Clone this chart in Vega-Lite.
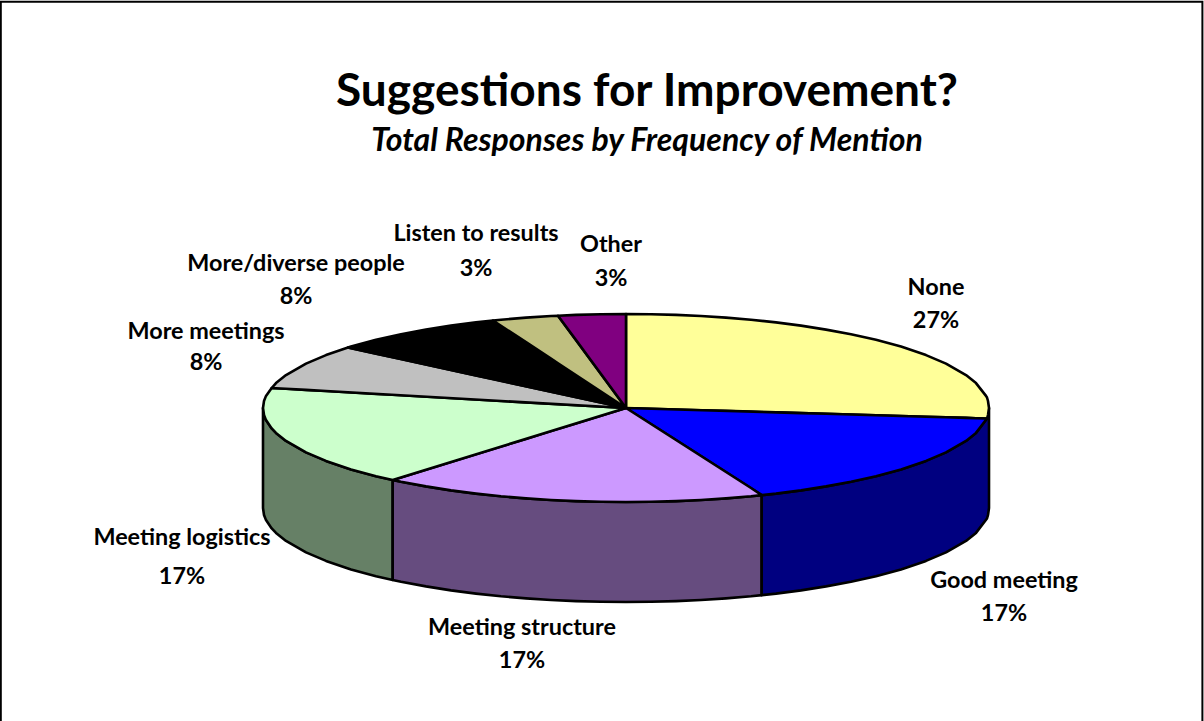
{
"$schema":"https://vega.github.io/schema/vega-lite/v6.json",
"width":1204,"height":721,"padding":0,"autosize":{"type":"none"},
"background":"white",
"view":{"stroke":null},
"config":{"axis":{"disable":true},"legend":{"disable":true}},
"title":{"text":"Suggestions for Improvement?","subtitle":"Total Responses by Frequency of Mention","anchor":"middle","frame":"group","dx":45,"offset":-160,"font":"Lato","fontSize":46,"fontWeight":"bold","color":"black","subtitleFont":"Lato","subtitleFontSize":32,"subtitleFontWeight":"bold","subtitleFontStyle":"italic","subtitleColor":"black","subtitlePadding":10},
"datasets":{
"frame":[{"o":0,"x":0.8,"y":721},{"o":1,"x":0.8,"y":1.8},{"o":2,"x":1202.4,"y":1.8},{"o":3,"x":1202.4,"y":721}],
"sides":[
{"part":"Meeting logistics side","x":263,"y":408,"y2":508},{"part":"Meeting logistics side","x":264,"y":415,"y2":515},{"part":"Meeting logistics side","x":266,"y":420.1,"y2":520.1},{"part":"Meeting logistics side","x":271.7,"y":428.4,"y2":528.4},{"part":"Meeting logistics side","x":276,"y":432.9,"y2":532.9},{"part":"Meeting logistics side","x":286,"y":440.9,"y2":540.9},{"part":"Meeting logistics side","x":306,"y":452.4,"y2":552.4},{"part":"Meeting logistics side","x":326,"y":460.9,"y2":560.9},{"part":"Meeting logistics side","x":351,"y":469.4,"y2":569.4},{"part":"Meeting logistics side","x":376,"y":476.2,"y2":576.2},{"part":"Meeting logistics side","x":392.7,"y":480,"y2":580},
{"part":"Meeting structure side","x":392.7,"y":480,"y2":580},{"part":"Meeting structure side","x":401,"y":481.8,"y2":581.8},{"part":"Meeting structure side","x":426,"y":486.4,"y2":586.4},{"part":"Meeting structure side","x":451,"y":490.4,"y2":590.4},{"part":"Meeting structure side","x":476,"y":493.6,"y2":593.6},{"part":"Meeting structure side","x":501,"y":496.3,"y2":596.3},{"part":"Meeting structure side","x":526,"y":498.4,"y2":598.4},{"part":"Meeting structure side","x":551,"y":500,"y2":600},{"part":"Meeting structure side","x":576,"y":501.1,"y2":601.1},{"part":"Meeting structure side","x":601,"y":501.8,"y2":601.8},{"part":"Meeting structure side","x":626,"y":502,"y2":602},{"part":"Meeting structure side","x":651,"y":501.8,"y2":601.8},{"part":"Meeting structure side","x":676,"y":501.1,"y2":601.1},{"part":"Meeting structure side","x":701,"y":500,"y2":600},{"part":"Meeting structure side","x":726,"y":498.4,"y2":598.4},{"part":"Meeting structure side","x":751,"y":496.3,"y2":596.3},{"part":"Meeting structure side","x":761.7,"y":495.1,"y2":595.1},
{"part":"Good meeting side","x":761.7,"y":495.1,"y2":595.1},{"part":"Good meeting side","x":776,"y":493.6,"y2":593.6},{"part":"Good meeting side","x":801,"y":490.4,"y2":590.4},{"part":"Good meeting side","x":826,"y":486.4,"y2":586.4},{"part":"Good meeting side","x":851,"y":481.8,"y2":581.8},{"part":"Good meeting side","x":876,"y":476.2,"y2":576.2},{"part":"Good meeting side","x":901,"y":469.4,"y2":569.4},{"part":"Good meeting side","x":926,"y":460.9,"y2":560.9},{"part":"Good meeting side","x":946,"y":452.4,"y2":552.4},{"part":"Good meeting side","x":966,"y":440.9,"y2":540.9},{"part":"Good meeting side","x":976,"y":432.9,"y2":532.9},{"part":"Good meeting side","x":987,"y":418.5,"y2":518.5},{"part":"Good meeting side","x":988,"y":415,"y2":515},{"part":"Good meeting side","x":989,"y":408,"y2":508}
],
"tops":[
{"part":"None","x":626,"y":314,"y2":408},{"part":"None","x":651,"y":314.2,"y2":408.7},{"part":"None","x":676,"y":314.9,"y2":409.5},{"part":"None","x":701,"y":316,"y2":410.2},{"part":"None","x":726,"y":317.6,"y2":410.9},{"part":"None","x":751,"y":319.7,"y2":411.6},{"part":"None","x":776,"y":322.4,"y2":412.4},{"part":"None","x":801,"y":325.6,"y2":413.1},{"part":"None","x":826,"y":329.6,"y2":413.8},{"part":"None","x":851,"y":334.2,"y2":414.5},{"part":"None","x":876,"y":339.8,"y2":415.3},{"part":"None","x":901,"y":346.6,"y2":416},{"part":"None","x":926,"y":355.1,"y2":416.7},{"part":"None","x":946,"y":363.6,"y2":417.3},{"part":"None","x":966,"y":375.1,"y2":417.9},{"part":"None","x":976,"y":383.1,"y2":418.2},{"part":"None","x":986,"y":395.9,"y2":418.5},{"part":"None","x":987,"y":397.5,"y2":418.5},{"part":"None","x":988,"y":401,"y2":415},{"part":"None","x":989,"y":408,"y2":408},
{"part":"Good meeting","x":626,"y":408,"y2":408},{"part":"Good meeting","x":694,"y":410,"y2":451.5},{"part":"Good meeting","x":761.7,"y":412,"y2":495.1},{"part":"Good meeting","x":776,"y":412.4,"y2":493.6},{"part":"Good meeting","x":801,"y":413.1,"y2":490.4},{"part":"Good meeting","x":826,"y":413.8,"y2":486.4},{"part":"Good meeting","x":851,"y":414.5,"y2":481.8},{"part":"Good meeting","x":876,"y":415.3,"y2":476.2},{"part":"Good meeting","x":901,"y":416,"y2":469.4},{"part":"Good meeting","x":926,"y":416.7,"y2":460.9},{"part":"Good meeting","x":946,"y":417.3,"y2":452.4},{"part":"Good meeting","x":966,"y":417.9,"y2":440.9},{"part":"Good meeting","x":976,"y":418.2,"y2":432.9},{"part":"Good meeting","x":987,"y":418.5,"y2":418.5},
{"part":"Meeting structure","x":392.7,"y":480,"y2":480},{"part":"Meeting structure","x":401,"y":477.4,"y2":481.8},{"part":"Meeting structure","x":426,"y":469.7,"y2":486.4},{"part":"Meeting structure","x":451,"y":462,"y2":490.4},{"part":"Meeting structure","x":476,"y":454.3,"y2":493.6},{"part":"Meeting structure","x":501,"y":446.6,"y2":496.3},{"part":"Meeting structure","x":526,"y":438.9,"y2":498.4},{"part":"Meeting structure","x":551,"y":431.1,"y2":500},{"part":"Meeting structure","x":576,"y":423.4,"y2":501.1},{"part":"Meeting structure","x":601,"y":415.7,"y2":501.8},{"part":"Meeting structure","x":626,"y":408,"y2":502},{"part":"Meeting structure","x":651,"y":424,"y2":501.8},{"part":"Meeting structure","x":676,"y":440,"y2":501.1},{"part":"Meeting structure","x":701,"y":456,"y2":500},{"part":"Meeting structure","x":726,"y":472,"y2":498.4},{"part":"Meeting structure","x":751,"y":488,"y2":496.3},{"part":"Meeting structure","x":761.7,"y":495.1,"y2":495.1},
{"part":"Meeting logistics","x":263,"y":408,"y2":408},{"part":"Meeting logistics","x":264,"y":401,"y2":415},{"part":"Meeting logistics","x":266,"y":395.9,"y2":420.1},{"part":"Meeting logistics","x":271.7,"y":388,"y2":428.4},{"part":"Meeting logistics","x":276,"y":388.2,"y2":432.9},{"part":"Meeting logistics","x":286,"y":388.8,"y2":440.9},{"part":"Meeting logistics","x":306,"y":389.9,"y2":452.4},{"part":"Meeting logistics","x":326,"y":391,"y2":460.9},{"part":"Meeting logistics","x":351,"y":392.5,"y2":469.4},{"part":"Meeting logistics","x":376,"y":393.9,"y2":476.2},{"part":"Meeting logistics","x":392.7,"y":394.8,"y2":480},{"part":"Meeting logistics","x":626,"y":408,"y2":408},
{"part":"More meetings","x":271.7,"y":388,"y2":388},{"part":"More meetings","x":276,"y":383.1,"y2":388.2},{"part":"More meetings","x":286,"y":375.1,"y2":388.8},{"part":"More meetings","x":306,"y":363.6,"y2":389.9},{"part":"More meetings","x":326,"y":355.1,"y2":391},{"part":"More meetings","x":348,"y":347.6,"y2":392.3},{"part":"More meetings","x":626,"y":408,"y2":408},
{"part":"More/diverse people","x":348,"y":347.6,"y2":347.6},{"part":"More/diverse people","x":351,"y":346.6,"y2":348.2},{"part":"More/diverse people","x":376,"y":339.8,"y2":353.7},{"part":"More/diverse people","x":401,"y":334.2,"y2":359.1},{"part":"More/diverse people","x":426,"y":329.6,"y2":364.5},{"part":"More/diverse people","x":451,"y":325.6,"y2":370},{"part":"More/diverse people","x":476,"y":322.4,"y2":375.4},{"part":"More/diverse people","x":493,"y":320.5,"y2":379.1},{"part":"More/diverse people","x":626,"y":408,"y2":408},
{"part":"Listen to results","x":493,"y":320.5,"y2":320.5},{"part":"Listen to results","x":501,"y":319.7,"y2":325.8},{"part":"Listen to results","x":526,"y":317.6,"y2":342.2},{"part":"Listen to results","x":551,"y":316,"y2":358.7},{"part":"Listen to results","x":558,"y":315.7,"y2":363.3},{"part":"Listen to results","x":626,"y":408,"y2":408},
{"part":"Other","x":558,"y":315.7,"y2":315.7},{"part":"Other","x":576,"y":314.9,"y2":340.1},{"part":"Other","x":601,"y":314.2,"y2":374.1},{"part":"Other","x":626,"y":314,"y2":408}
],
"labels":[
{"name":"None","share":0.27,"x":936,"y":288,"yp":321},
{"name":"Good meeting","share":0.17,"x":1004,"y":581,"yp":614},
{"name":"Meeting structure","share":0.17,"x":522,"y":628,"yp":661},
{"name":"Meeting logistics","share":0.17,"x":182,"y":538,"yp":577},
{"name":"More meetings","share":0.08,"x":206,"y":332,"yp":363},
{"name":"More/diverse people","share":0.08,"x":296,"y":264,"yp":297},
{"name":"Listen to results","share":0.03,"x":476,"y":234,"yp":269},
{"name":"Other","share":0.03,"x":611,"y":245,"yp":279}
]
},
"encoding":{
"x":{"field":"x","type":"quantitative","scale":{"domain":[0,1204],"nice":false,"zero":false}},
"y":{"field":"y","type":"quantitative","stack":null,"scale":{"domain":[721,0],"nice":false,"zero":false}}
},
"layer":[
{"data":{"name":"frame"},"mark":{"type":"line","stroke":"black","strokeWidth":2},"encoding":{"order":{"field":"o","type":"ordinal"}}},
{"data":{"name":"sides"},"mark":{"type":"area","orient":"vertical","stroke":"black","strokeWidth":2.6,"strokeJoin":"round","opacity":1,"fillOpacity":1},
 "encoding":{"y2":{"field":"y2"},"color":{"field":"part","type":"nominal","scale":{"domain":["Good meeting side","Meeting structure side","Meeting logistics side"],"range":["#000080","#664C7F","#668066"]}}}},
{"data":{"name":"tops"},"mark":{"type":"area","orient":"vertical","stroke":"black","strokeWidth":2.6,"strokeJoin":"round","opacity":1,"fillOpacity":1},
 "encoding":{"y2":{"field":"y2"},"fill":{"field":"part","type":"nominal","scale":{"domain":["None","Good meeting","Meeting structure","Meeting logistics","More meetings","More/diverse people","Listen to results","Other"],"range":["#FFFF99","#0000FF","#CC99FF","#CCFFCC","#C0C0C0","#000000","#C0C080","#800080"]}}}},
{"data":{"name":"labels"},"mark":{"type":"text","font":"Lato","fontSize":23.4,"fontWeight":"bold","color":"black","align":"center","baseline":"middle"},"encoding":{"text":{"field":"name"}}},
{"data":{"name":"labels"},"mark":{"type":"text","font":"Lato","fontSize":23.4,"fontWeight":"bold","color":"black","align":"center","baseline":"middle"},"encoding":{"y":{"field":"yp","type":"quantitative"},"text":{"field":"share","type":"quantitative","format":".0%"}}}
]
}
